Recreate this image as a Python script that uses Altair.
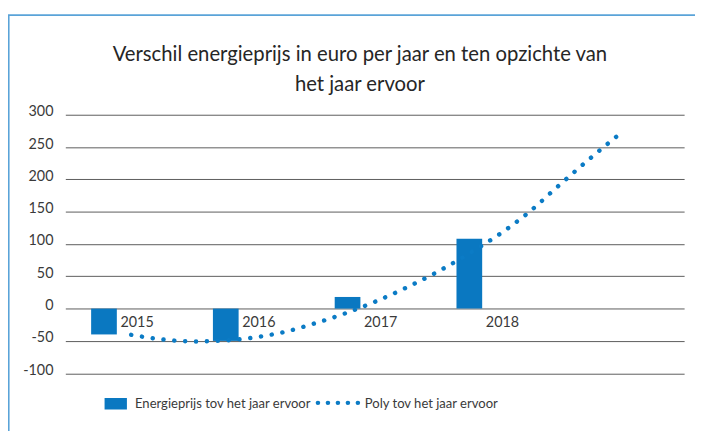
import altair as alt
import pandas as pd

# ---- data ----
years = [2015, 2016, 2017, 2018]
values = [-40, -50, 18, 108]
year_labels = ["2015", "2016", "2017", "2018"]

trend_x = [2015.0, 2015.25, 2015.5, 2015.75, 2016.0, 2016.25, 2016.5, 2016.75,
           2017.0, 2017.25, 2017.5, 2017.75, 2018.0, 2018.25, 2018.5, 2018.75, 2019.0]
trend_y = [-40.6, -47.6, -50.8, -49.6, -44.9, -36.5, -23.3, -7.9,
           10.4, 31.6, 55.3, 82.4, 112.0, 146.6, 188.4, 229.4, 268.5]

y_ticks = [-100, -50, 0, 50, 100, 150, 200, 250, 300]
title_lines = ["Verschil energieprijs in euro per jaar en ten opzichte van", "het jaar ervoor"]
legend_labels = ["Energieprijs tov het jaar ervoor", "Poly tov het jaar ervoor"]

BLUE = "#0a78c1"
DOT = "#0b7bc5"
TEXT = "#3a3a3a"
FONT = "Lato"

bars_df = pd.DataFrame({"year": years, "value": values, "label": year_labels})
trend_df = pd.DataFrame({"x": trend_x, "y": trend_y})

xs = alt.Scale(domain=[2014.5, 2019.5], nice=False, zero=False)
ys = alt.Scale(domain=[-100, 300], nice=False)

base_bars = alt.Chart(bars_df)

bars = base_bars.mark_bar(width=26, xOffset=-27.5, color=BLUE).encode(
    x=alt.X("year:Q", scale=xs, axis=None),
    y=alt.Y("value:Q", scale=ys, title=None,
            axis=alt.Axis(values=y_ticks, tickCount=len(y_ticks) + 1, grid=True,
                          domain=False, ticks=False, labelOverlap=False,
                          labelExpr="toString(datum.value)",
                          labelPadding=12.5, labelFont=FONT, labelFontSize=14.5,
                          labelColor=TEXT, gridColor="#5c5c5c", gridWidth=1,
                          labelOffset=-3)),
    y2=alt.datum(0),
)

xlabels = base_bars.mark_text(align="center", baseline="alphabetic", dx=6, dy=19,
                              font=FONT, fontSize=14.5, color=TEXT).encode(
    x=alt.X("year:Q", scale=xs),
    y=alt.Y("zero:Q", scale=ys),
    text="label:N",
).transform_calculate(zero="0")

trend = alt.Chart(trend_df).mark_line(
    color=DOT, strokeWidth=4.5, strokeDash=[0.1, 10.9], strokeCap="round",
    interpolate="monotone",
).encode(
    x=alt.X("x:Q", scale=xs),
    y=alt.Y("y:Q", scale=ys),
)

one = alt.Data(values=[{"a": 1}])

# chart title (two lines, centred over the whole frame)
title1 = alt.Chart(one).mark_text(align="center", baseline="alphabetic", font=FONT,
                                  fontSize=20.5, color="#262626",
                                  text=title_lines[0]).encode(
    x=alt.value(298), y=alt.value(-54.2))
title2 = alt.Chart(one).mark_text(align="center", baseline="alphabetic", font=FONT,
                                  fontSize=20.5, color="#262626",
                                  text=title_lines[1]).encode(
    x=alt.value(298), y=alt.value(-23.5))

# legend (bottom)
leg_rect = alt.Chart(one).mark_rect(color=BLUE).encode(
    x=alt.value(39.7), x2=alt.value(62.3), y=alt.value(286.5), y2=alt.value(298.2))
leg_text1 = alt.Chart(one).mark_text(align="left", baseline="alphabetic", font=FONT,
                                     fontSize=13.2, color=TEXT,
                                     text=legend_labels[0]).encode(
    x=alt.value(70.5), y=alt.value(296.5))
leg_dots = alt.Chart(one).mark_rule(color=DOT, strokeWidth=4.5, strokeDash=[0.1, 10],
                                    strokeCap="round").encode(
    x=alt.value(255.5), x2=alt.value(299), y=alt.value(291.5))
leg_text2 = alt.Chart(one).mark_text(align="left", baseline="alphabetic", font=FONT,
                                     fontSize=13.2, color=TEXT,
                                     text=legend_labels[1]).encode(
    x=alt.value(303), y=alt.value(296.5))

# outer frame (top and left edge visible in the reference)
frame_top = alt.Chart(one).mark_rule(color="#5aa3d8", strokeWidth=1.6).encode(
    x=alt.value(-58), x2=alt.value(640), y=alt.value(-100.8))
frame_left = alt.Chart(one).mark_rule(color="#5aa3d8", strokeWidth=1.6).encode(
    x=alt.value(-57.2), y=alt.value(-100.8), y2=alt.value(320))

chart = alt.layer(
    frame_top, frame_left, title1, title2, bars, trend, xlabels,
    leg_rect, leg_text1, leg_dots, leg_text2,
).properties(
    width=626,
    height=261.5,
    padding={"left": 58, "top": 105.5, "right": 11, "bottom": 57},
    autosize="none",
).configure_view(stroke=None)

chart.save("out.html", embed_options={"renderer": "svg", "actions": False})
